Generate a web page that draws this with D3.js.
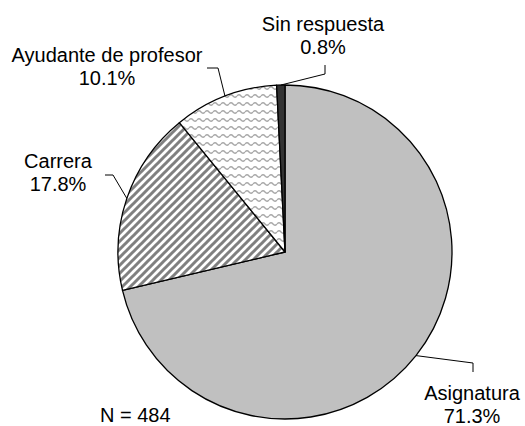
<!DOCTYPE html>
<html><head><meta charset="utf-8">
<script src="https://cdn.jsdelivr.net/npm/d3@7"></script>
<style>body{margin:0;background:#fff}svg{display:block}text{font-family:"Liberation Sans",Arial,sans-serif;font-size:20px;fill:#000}</style>
</head><body><svg id="c" width="525" height="426"></svg>
<script>
// ---- data ----
const categories = ["Asignatura", "Carrera", "Ayudante de profesor", "Sin respuesta"];
const percentages = [71.3, 17.8, 10.1, 0.8];
const percentLabels = ["71.3%", "17.8%", "10.1%", "0.8%"];
const totalN = 484;

// ---- layout (not data) ----
const cx = 285, cy = 252, R = 167;
const fills = ["#c0c0c0", "url(#stripes)", "url(#waves)", "#333333"];
// label text centre x, first baseline, and leader stub (end, elbow)
const labelLayout = [
  {x: 472, y: 400, stub: [[473, 372], [473, 363]]},
  {x: 58,  y: 168, stub: [[105, 175], [113, 175]]},
  {x: 107, y: 62,  stub: [[207, 68], [218, 68]]},
  {x: 323, y: 31,  stub: [[325, 65], [325, 74]]}
];

const svg = d3.select("#c");
const defs = svg.append("defs");
const st = defs.append("pattern").attr("id", "stripes").attr("patternUnits", "userSpaceOnUse")
  .attr("width", 8).attr("height", 8);
st.append("rect").attr("width", 8).attr("height", 8).attr("fill", "#fff");
st.append("path").attr("d", "M-2,2 L2,-2 M0,8 L8,0 M6,10 L10,6")
  .attr("stroke", "#808080").attr("stroke-width", 3);
const wv = defs.append("pattern").attr("id", "waves").attr("patternUnits", "userSpaceOnUse")
  .attr("width", 8).attr("height", 8);
wv.append("rect").attr("width", 8).attr("height", 8).attr("fill", "#fff");
wv.append("path").attr("d", "M0,4 Q2,1.5 4,4 T8,4")
  .attr("fill", "none").attr("stroke", "#a8a8a8").attr("stroke-width", 1.3);

const data = categories.map((c, i) => ({cat: c, v: percentages[i], lab: percentLabels[i], i}));
const pie = d3.pie().sort(null).value(d => d.v).startAngle(0).endAngle(2 * Math.PI);
const arcs = pie(data);
const arc = d3.arc().innerRadius(0).outerRadius(R);
const edge = d3.arc().innerRadius(R).outerRadius(R);

const g = svg.append("g").attr("transform", `translate(${cx},${cy})`);
g.selectAll("path.slice").data(arcs).join("path").attr("class", "slice")
  .attr("d", arc).attr("fill", d => fills[d.data.i])
  .attr("stroke", "#000").attr("stroke-width", 1.3).attr("stroke-linejoin", "round");

// leaders
const line = d3.line();
arcs.forEach(d => {
  const L = labelLayout[d.data.i];
  const e = edge.centroid(d);
  const pts = [L.stub[0], L.stub[1], [e[0] + cx, e[1] + cy]];
  svg.append("path").attr("d", line(pts)).attr("fill", "none")
    .attr("stroke", "#000").attr("stroke-width", 1);
  const t = svg.append("text").attr("text-anchor", "middle");
  t.append("tspan").attr("x", L.x).attr("y", L.y).text(d.data.cat);
  t.append("tspan").attr("x", L.x).attr("y", L.y + 23).text(d.data.lab);
});

svg.append("text").attr("x", 100).attr("y", 422).text("N = " + totalN);
</script></body></html>
